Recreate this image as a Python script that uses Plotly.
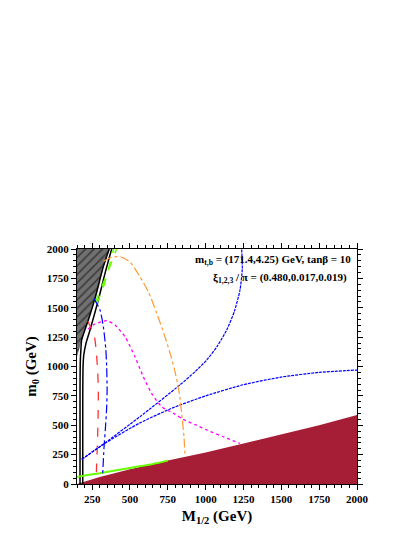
import plotly.graph_objects as go

# ---- data (GeV) ----
excl_x = [150, 300, 500, 750, 1000, 1250, 1500, 1750, 2000]
excl_y = [0, 60, 125, 200, 268, 345, 420, 500, 587]

hatch_x = [150, 165, 181, 225, 269, 324, 363, 150]
hatch_y = [1080, 1150, 1226, 1396, 1580, 1850, 2000, 2000]

black1_x = [170, 170, 172, 176, 181, 225, 269, 324, 363]
black1_y = [0, 800, 1050, 1150, 1226, 1396, 1580, 1850, 2000]
black2_x = [188, 188, 190, 195, 210, 236, 291, 335, 379]
black2_y = [0, 700, 1000, 1100, 1200, 1310, 1566, 1793, 2000]

green1_x = [269, 330, 412]
green1_y = [1540, 1730, 2000]
green2_x = [280, 330, 392]
green2_y = [1530, 1700, 2000]
green3_x = [150, 180, 300, 500, 650, 750]
green3_y = [62, 70, 95, 140, 172, 200]
green4_x = [150, 180, 300, 500, 650, 750]
green4_y = [57, 65, 89, 134, 167, 197]

red_x = [222, 245, 265, 278, 287, 291, 289, 285, 278]
red_y = [1385, 1320, 1255, 1120, 950, 800, 550, 350, 100]

bluev_x = [262, 302, 324, 340, 346, 349, 346, 338, 328, 320]
bluev_y = [1580, 1481, 1339, 1150, 1000, 800, 650, 480, 300, 90]

blueu_x = [181, 335, 566, 830, 930, 1007, 1075, 1139, 1190, 1227, 1242, 1238]
blueu_y = [210, 350, 573, 843, 956, 1055, 1170, 1311, 1470, 1651, 1830, 2000]

bluel_x = [181, 335, 566, 786, 1000, 1250, 1500, 1750, 2000]
bluel_y = [210, 346, 520, 650, 750, 845, 910, 950, 970]

orange_x = [325, 380, 434, 500, 566, 621, 677, 731, 770, 800, 825, 845, 857, 864]
orange_y = [1895, 1930, 1935, 1890, 1764, 1637, 1453, 1254, 1090, 942, 780, 560, 400, 233]

mag_x = [222, 269, 346, 401, 467, 533, 588, 643, 709, 797, 852, 930, 1007, 1120, 1227]
mag_y = [1320, 1362, 1390, 1353, 1254, 1083, 913, 772, 658, 595, 550, 505, 460, 400, 345]

xticks = [250, 500, 750, 1000, 1250, 1500, 1750, 2000]
yticks = [0, 250, 500, 750, 1000, 1250, 1500, 1750, 2000]

fig = go.Figure()

# excluded (maroon) region
fig.add_trace(go.Scatter(x=excl_x + [2000, 150], y=excl_y + [0, 0], fill="toself",
                         fillcolor="#A51E36", line=dict(width=0), mode="lines",
                         hoverinfo="skip"))
# hatched region
fig.add_trace(go.Scatter(x=hatch_x, y=hatch_y, fill="toself", mode="lines",
                         line=dict(width=0),
                         fillpattern=dict(shape="/", bgcolor="#707070", fgcolor="#000000",
                                          size=6, solidity=0.25),
                         fillcolor="#707070", hoverinfo="skip"))

def line(x, y, color, dash="solid", width=1.2):
    fig.add_trace(go.Scatter(x=x, y=y, mode="lines",
                             line=dict(color=color, dash=dash, width=width,
                                       shape="spline", smoothing=0.6),
                             hoverinfo="skip"))

line(black1_x, black1_y, "black", "solid", 1.5)
line(black2_x, black2_y, "black", "solid", 1.5)
line(green1_x, green1_y, "#66FF00", "dash", 1.5)
line(green2_x, green2_y, "#66FF00", "dash", 1.5)
line(green3_x, green3_y, "#66FF00", "solid", 1.3)
line(green4_x, green4_y, "#66FF00", "solid", 1.3)
line(red_x, red_y, "#FF3333", "dash", 1.3)
line(bluev_x, bluev_y, "#0000FF", "dashdot", 1.2)
line(blueu_x, blueu_y, "#0000FF", "3px,1px", 1.2)
line(bluel_x, bluel_y, "#0000FF", "3px,1px", 1.2)
line(orange_x, orange_y, "#FF9933", "dashdot", 1.2)
line(mag_x, mag_y, "#FF00FF", "dot", 1.3)

# invisible trace so the mirrored top/right axes are drawn
fig.add_trace(go.Scatter(x=[150], y=[0], xaxis="x2", yaxis="y2", mode="markers",
                         marker=dict(opacity=0), hoverinfo="skip"))

serif = "Liberation Serif"
axis_common = dict(showgrid=False, zeroline=False, showline=True, linecolor="black",
                   linewidth=1, ticks="outside", ticklen=5,
                   tickcolor="black", tickwidth=1,
                   tickfont=dict(family=serif, size=11, color="black"),
                   minor=dict(ticks="outside", ticklen=3, tickcolor="black", dtick=50))

fig.update_layout(
    xaxis=dict(range=[150, 2000], tickvals=xticks,
               ticktext=[f"<b>{v}</b>" for v in xticks],
               title=dict(text="<b>M<sub>1/2</sub> (GeV)</b>",
                          font=dict(family=serif, size=15, color="black"), standoff=6),
               **axis_common),
    yaxis=dict(range=[0, 2000], tickvals=yticks,
               ticktext=[f"<b>{v}</b>" for v in yticks],
               title=dict(text="<b>m<sub>0</sub> (GeV)</b>",
                          font=dict(family=serif, size=15, color="black"), standoff=6),
               **axis_common),
    xaxis2=dict(range=[150, 2000], tickvals=xticks, overlaying="x", side="top",
                showticklabels=False, **axis_common),
    yaxis2=dict(range=[0, 2000], tickvals=yticks, overlaying="y", side="right",
                showticklabels=False, **axis_common),
)

fig.add_annotation(x=0.985, y=0.953, xref="paper", yref="paper", xanchor="right",
                   yanchor="middle", showarrow=False,
                   text="<b>m<sub>t,b</sub> = (171.4,4.25) GeV, tanβ = 10</b>",
                   font=dict(family=serif, size=11, color="black"))
fig.add_annotation(x=0.97, y=0.877, xref="paper", yref="paper", xanchor="right",
                   yanchor="middle", showarrow=False,
                   text="<b>ξ<sub>1,2,3</sub> / π = (0.480,0.017,0.019)</b>",
                   font=dict(family=serif, size=11, color="black"))

# page body adds an 8px offset; margins compensate so the plot area sits where the reference has it
fig.update_layout(width=420, height=543, showlegend=False,
                  paper_bgcolor="white", plot_bgcolor="white",
                  margin=dict(l=69, r=71, t=241, b=67))

fig.write_html("out.html")
